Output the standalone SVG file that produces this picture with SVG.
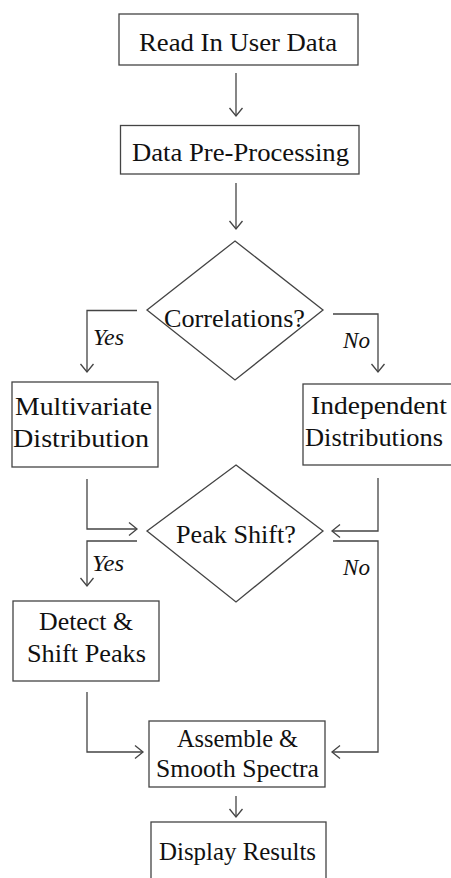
<svg xmlns="http://www.w3.org/2000/svg" width="451" height="878" viewBox="0 0 451 878">
<style>
.box{fill:#fff;stroke:#444;stroke-width:1.3}
.t{font-family:"Liberation Serif","Times New Roman",serif;font-size:26px;fill:#111;text-anchor:middle}
.lbl{font-family:"Liberation Serif","Times New Roman",serif;font-size:23px;font-style:italic;fill:#111}
.c{fill:none;stroke:#444;stroke-width:1.3}
</style>
<defs>
<marker id="ah" markerUnits="userSpaceOnUse" markerWidth="16" markerHeight="16" viewBox="-10 -8 12 16" refX="0" refY="0" orient="auto">
<path d="M-8,-6.5 L0,0 L-8,6.5" fill="none" stroke="#444" stroke-width="1.3"/>
</marker>
</defs>
<rect width="451" height="878" fill="#fff"/>
<g id="connectors">
<path class="c" d="M236,73 V116" marker-end="url(#ah)"/>
<path class="c" d="M236,183 V229" marker-end="url(#ah)"/>
<path class="c" d="M137,310.5 H87 V372" marker-end="url(#ah)"/>
<path class="c" d="M333,314 H378 V372" marker-end="url(#ah)"/>
<path class="c" d="M87,479 V529 H137" marker-end="url(#ah)"/>
<path class="c" d="M378,478 V531 H332" marker-end="url(#ah)"/>
<path class="c" d="M137,541 H87 V586" marker-end="url(#ah)"/>
<path class="c" d="M333,541 H378 V752 H332" marker-end="url(#ah)"/>
<path class="c" d="M87,692 V752 H143" marker-end="url(#ah)"/>
<path class="c" d="M236,796 V817" marker-end="url(#ah)"/>
<text class="lbl" x="93" y="345" textLength="31" lengthAdjust="spacingAndGlyphs">Yes</text>
<text class="lbl" x="343" y="348" textLength="27" lengthAdjust="spacingAndGlyphs">No</text>
<text class="lbl" x="92" y="571" textLength="32" lengthAdjust="spacingAndGlyphs">Yes</text>
<text class="lbl" x="343" y="575" textLength="27" lengthAdjust="spacingAndGlyphs">No</text>
</g>
<g id="read">
<rect class="box" x="119" y="14" width="239" height="51"/>
<text class="t" x="238" y="51" textLength="198" lengthAdjust="spacingAndGlyphs">Read In User Data</text>
</g>
<g id="preproc">
<rect class="box" x="120.5" y="125.5" width="238.5" height="48.5"/>
<text class="t" x="240.5" y="161" textLength="217" lengthAdjust="spacingAndGlyphs">Data Pre-Processing</text>
</g>
<g id="correlations">
<path class="box" d="M235,241 L323,310 L235,380 L147,310 Z"/>
<text class="t" x="234.5" y="327" textLength="141" lengthAdjust="spacingAndGlyphs">Correlations?</text>
</g>
<g id="multivariate">
<rect class="box" x="12" y="382" width="146" height="85"/>
<text class="t" x="83.5" y="415" textLength="137" lengthAdjust="spacingAndGlyphs">Multivariate</text>
<text class="t" x="81" y="447" textLength="136" lengthAdjust="spacingAndGlyphs">Distribution</text>
</g>
<g id="independent">
<rect class="box" x="303" y="384" width="152" height="81"/>
<text class="t" x="379" y="414" textLength="136" lengthAdjust="spacingAndGlyphs">Independent</text>
<text class="t" x="374" y="446" textLength="138" lengthAdjust="spacingAndGlyphs">Distributions</text>
</g>
<g id="peakshift">
<path class="box" d="M236,465 L323,531 L236,602 L147,531 Z"/>
<text class="t" x="236" y="543" textLength="120" lengthAdjust="spacingAndGlyphs">Peak Shift?</text>
</g>
<g id="detect">
<rect class="box" x="13" y="601" width="146" height="80"/>
<text class="t" x="86" y="630" textLength="94" lengthAdjust="spacingAndGlyphs">Detect &amp;</text>
<text class="t" x="86.5" y="662" textLength="119" lengthAdjust="spacingAndGlyphs">Shift Peaks</text>
</g>
<g id="assemble">
<rect class="box" x="149" y="721" width="176" height="66"/>
<text class="t" x="237.5" y="747" textLength="121" lengthAdjust="spacingAndGlyphs">Assemble &amp;</text>
<text class="t" x="237.5" y="777" textLength="163" lengthAdjust="spacingAndGlyphs">Smooth Spectra</text>
</g>
<g id="display">
<rect class="box" x="151" y="822" width="175" height="62"/>
<text class="t" x="237.5" y="860" textLength="157" lengthAdjust="spacingAndGlyphs">Display Results</text>
</g>
</svg>
